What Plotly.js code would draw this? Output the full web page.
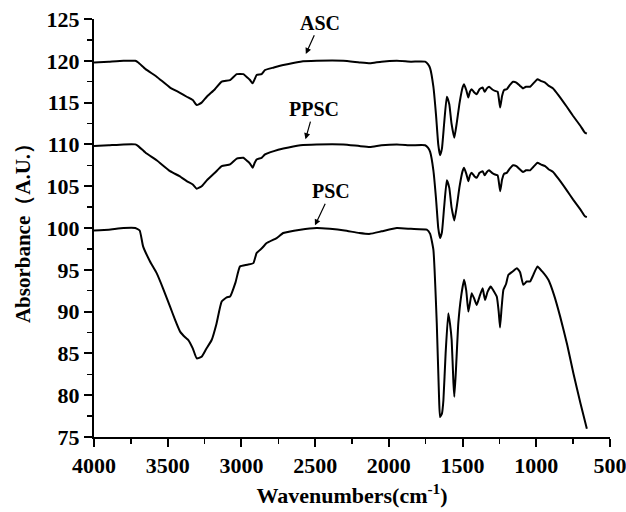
<!DOCTYPE html>
<html>
<head>
<meta charset="utf-8">
<script src="https://cdn.plot.ly/plotly-3.0.1.min.js"></script>
<style>html,body{margin:0;padding:0;background:#fff;}#chart{width:626px;height:512px;}</style>
</head>
<body>
<div id="chart"></div>
<script>
// ASC spectrum
const ascX = [4000,3900,3800,3720,3700,3650,3575,3484,3420,3371,3330,3303,3270,3235,3180,3134,3077,3032,2987,2960,2942,2924,2910,2897,2863,2840,2780,2716,2600,2490,2309,2200,2128,2050,1946,1850,1754,1735,1720,1698,1680,1665,1653,1640,1625,1607,1590,1575,1556,1540,1520,1500,1490,1475,1461,1450,1438,1420,1404,1385,1364,1350,1335,1320,1300,1280,1262,1245,1232,1218,1200,1180,1157,1135,1110,1090,1070,1042,1020,992,970,940,915,886,850,793,750,700,670,657];
const ascY = [119.8,119.9,120.0,120.0,119.8,119.0,118.1,116.8,116.2,115.7,115.3,114.7,115.0,115.7,116.6,117.5,117.7,118.4,118.4,118.0,117.7,117.3,117.8,118.3,118.4,118.9,119.2,119.5,119.9,120.0,120.0,119.8,119.7,119.9,120.0,119.9,119.9,119.6,119.1,116.9,113.5,110.0,108.7,109.5,112.5,115.7,114.8,112.5,110.8,112.5,115.0,116.8,117.2,116.5,115.6,116.3,116.6,116.2,116.0,116.6,116.8,116.3,116.7,116.9,116.6,116.4,116.3,114.4,115.8,116.5,116.6,117.1,117.5,117.4,117.0,116.7,116.9,116.9,117.3,117.8,117.6,117.4,117.0,116.7,115.9,114.5,113.4,112.2,111.4,111.3];
// PPSC spectrum
const ppscX = ascX;
const ppscY = [109.8,109.9,110.0,110.0,109.8,109.0,108.1,106.8,106.2,105.6,105.2,104.7,105.0,105.7,106.6,107.4,107.6,108.3,108.4,108.0,107.7,107.2,107.8,108.2,108.4,108.8,109.2,109.5,109.9,110.0,110.0,109.8,109.7,109.9,110.0,109.9,109.9,109.6,109.1,106.9,103.5,100.0,98.8,99.5,102.5,105.7,104.8,102.5,100.9,102.5,105.0,106.8,107.2,106.5,105.6,106.3,106.6,106.2,106.0,106.6,106.8,106.3,106.7,106.9,106.6,106.4,106.3,104.4,105.8,106.5,106.6,107.1,107.5,107.4,107.0,106.7,106.9,106.9,107.3,107.8,107.6,107.4,107.0,106.7,105.9,104.5,103.4,102.2,101.4,101.3];
// PSC spectrum
const pscX = [4000,3900,3800,3720,3690,3667,3620,3575,3530,3484,3450,3416,3380,3360,3330,3303,3270,3240,3202,3170,3134,3100,3077,3040,3010,2960,2919,2897,2860,2829,2761,2716,2600,2490,2400,2300,2200,2128,2050,1946,1850,1743,1720,1698,1675,1660,1653,1640,1630,1615,1597,1585,1574,1562,1556,1545,1529,1510,1490,1475,1461,1450,1438,1420,1404,1385,1364,1355,1347,1330,1309,1290,1268,1255,1246,1235,1223,1205,1189,1160,1132,1110,1088,1065,1042,1020,992,960,918,880,838,790,748,700,657];
const pscY = [99.7,99.8,100.0,100.0,99.7,97.8,96.0,94.6,92.7,90.6,89.0,87.6,86.9,86.6,85.6,84.4,84.6,85.5,86.6,88.5,91.2,91.7,91.8,93.5,95.4,95.6,95.8,97.0,97.6,98.2,98.8,99.4,99.8,100.0,99.9,99.7,99.4,99.3,99.6,100.0,99.9,99.8,99.3,97.4,88.6,80.0,77.4,77.8,79.4,85.0,89.8,88.5,86.6,81.5,79.8,83.0,88.6,91.8,93.8,92.5,90.0,91.0,92.2,91.5,90.8,91.8,92.8,92.0,91.4,92.4,93.0,92.5,91.8,90.0,88.1,90.5,92.6,93.3,94.4,94.8,95.2,94.7,93.2,93.6,93.6,94.4,95.4,94.8,93.8,92.0,89.4,86.0,82.6,79.0,76.0];

const seriesNames = ["ASC","PPSC","PSC"];
const labelX = [2569, 2569, 2507];
const labelY = [120.6, 110.4, 100.1];

const font = "'Liberation Serif','Times New Roman',serif";
const line = {color:'#000', width:2, shape:'spline', smoothing:0.4};
const traces = [
  {x:ascX, y:ascY, name:seriesNames[0], mode:'lines', line:line},
  {x:ppscX, y:ppscY, name:seriesNames[1], mode:'lines', line:line},
  {x:pscX, y:pscY, name:seriesNames[2], mode:'lines', line:line}
];
const offs = [[15,-33],[9,-32],[17,-36]];
const annotations = seriesNames.map((n,i)=>({
  x:labelX[i], y:labelY[i], xref:'x', yref:'y', text:'<b>'+n+'</b>',
  showarrow:true, arrowhead:2, arrowsize:1, arrowwidth:1.2, arrowcolor:'#000',
  ax:offs[i][0], ay:offs[i][1], standoff:2,
  font:{family:font, size:20, color:'#000'}
}));
const axisCommon = {
  showline:true, linecolor:'#000', linewidth:2, mirror:false,
  ticks:'outside', ticklen:8, tickwidth:2, tickcolor:'#000',
  showgrid:false, zeroline:false, ticklabeloverflow:'allow',
  tickfont:{family:font, size:22, color:'#000', weight:'bold'}
};
const layout = {
  width:626, height:512,
  margin:{l:94, r:16, t:19, b:75},
  paper_bgcolor:'#fff', plot_bgcolor:'#fff',
  showlegend:false,
  xaxis:Object.assign({}, axisCommon, {
    range:[4000,500], dtick:500, tick0:500, autorange:false,
    minor:{ticks:'outside', ticklen:5, tickwidth:1.5, tickcolor:'#000', showgrid:false, dtick:250, tick0:500},
    title:{text:'<b>Wavenumbers(cm<sup>-1</sup>)</b>', font:{family:font, size:22, color:'#000'}, standoff:10}
  }),
  yaxis:Object.assign({}, axisCommon, {
    range:[75,125], dtick:5, tick0:75, autorange:false,
    minor:{ticks:'outside', ticklen:5, tickwidth:1.5, tickcolor:'#000', showgrid:false, dtick:2.5, tick0:75},
    title:{text:'<b>Absorbance（A.U.）</b>', font:{family:font, size:21, color:'#000'}, standoff:10}
  }),
  annotations:annotations
};
Plotly.newPlot('chart', traces, layout, {displayModeBar:false, staticPlot:true});
</script>
</body>
</html>
